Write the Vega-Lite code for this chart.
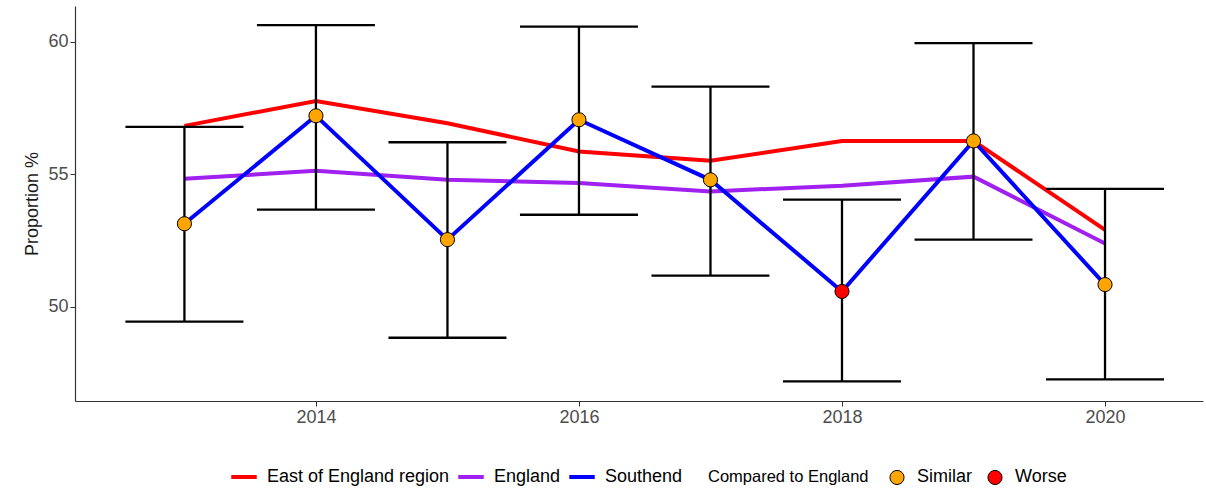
{
  "$schema": "https://vega.github.io/schema/vega-lite/v6.json",
  "autosize": {"type": "none"},
  "width": 1128,
  "height": 395,
  "padding": {"left": 75, "top": 6, "right": 3, "bottom": 87},
  "background": "white",
  "config": {
    "view": {"stroke": null},
    "font": "Liberation Sans",
    "axis": {"grid": false, "domainColor": "#333333", "domainWidth": 1.2, "tickColor": "#333333", "tickSize": 5, "labelColor": "#4D4D4D", "labelFont": "Liberation Sans", "titleFont": "Liberation Sans", "titleFontWeight": "normal", "titleColor": "#1a1a1a", "labelFontSize": 18, "titleFontSize": 18, "labelPadding": 2, "titlePadding": 6},
    "legend": {"orient": "none", "direction": "horizontal", "padding": 0, "labelFontSize": 18, "labelFont": "Liberation Sans", "labelColor": "#000000", "labelLimit": 400, "titleFont": "Liberation Sans", "titleFontWeight": "normal", "titleFontSize": 16.5, "titleColor": "#000000"}
  },
  "data": {
    "values": [
      {"year": 2013, "area": "East of England region", "value": 56.83},
      {"year": 2014, "area": "East of England region", "value": 57.77},
      {"year": 2015, "area": "East of England region", "value": 56.93},
      {"year": 2016, "area": "East of England region", "value": 55.86},
      {"year": 2017, "area": "East of England region", "value": 55.51},
      {"year": 2018, "area": "East of England region", "value": 56.26},
      {"year": 2019, "area": "East of England region", "value": 56.26},
      {"year": 2020, "area": "East of England region", "value": 52.9},
      {"year": 2013, "area": "England", "value": 54.83},
      {"year": 2014, "area": "England", "value": 55.13},
      {"year": 2015, "area": "England", "value": 54.79},
      {"year": 2016, "area": "England", "value": 54.67},
      {"year": 2017, "area": "England", "value": 54.35},
      {"year": 2018, "area": "England", "value": 54.57},
      {"year": 2019, "area": "England", "value": 54.91},
      {"year": 2020, "area": "England", "value": 52.38},
      {"year": 2013, "area": "Southend", "value": 53.13, "lower": 49.43, "upper": 56.79, "compared": "Similar"},
      {"year": 2014, "area": "Southend", "value": 57.21, "lower": 53.66, "upper": 60.64, "compared": "Similar"},
      {"year": 2015, "area": "Southend", "value": 52.53, "lower": 48.82, "upper": 56.21, "compared": "Similar"},
      {"year": 2016, "area": "Southend", "value": 57.06, "lower": 53.47, "upper": 60.58, "compared": "Similar"},
      {"year": 2017, "area": "Southend", "value": 54.79, "lower": 51.17, "upper": 58.31, "compared": "Similar"},
      {"year": 2018, "area": "Southend", "value": 50.57, "lower": 47.17, "upper": 54.04, "compared": "Worse"},
      {"year": 2019, "area": "Southend", "value": 56.26, "lower": 52.53, "upper": 59.96, "compared": "Similar"},
      {"year": 2020, "area": "Southend", "value": 50.83, "lower": 47.25, "upper": 54.45, "compared": "Similar"}
    ]
  },
  "layer": [
    {
      "mark": {"type": "line", "strokeWidth": 4},
      "encoding": {
        "x": {"field": "year", "type": "quantitative", "scale": {"domain": [2012.168, 2020.745], "nice": false, "zero": false},
              "axis": {"values": [2014, 2016, 2018, 2020], "format": "d", "title": null}},
        "y": {"field": "value", "type": "quantitative", "scale": {"domain": [46.43, 61.36], "nice": false, "zero": false},
              "axis": {"values": [50, 55, 60], "title": "Proportion %"}},
        "color": {"field": "area", "type": "nominal",
                  "scale": {"domain": ["East of England region", "England", "Southend"], "range": ["#FF0000", "#A020F0", "#0000FF"]},
                  "legend": {"title": null, "legendX": 154, "legendY": 456, "symbolType": "stroke", "symbolStrokeWidth": 4, "symbolSize": 650, "labelOffset": 8, "columnPadding": 0}}
      }
    },
    {
      "transform": [{"filter": "datum.area === 'Southend'"}],
      "mark": {"type": "rule", "color": "black", "strokeWidth": 2.3},
      "encoding": {
        "x": {"field": "year", "type": "quantitative"},
        "y": {"field": "lower", "type": "quantitative"},
        "y2": {"field": "upper"}
      }
    },
    {
      "transform": [{"filter": "datum.area === 'Southend'"}],
      "mark": {"type": "tick", "orient": "horizontal", "color": "black", "size": 118, "thickness": 2.3, "opacity": 1},
      "encoding": {"x": {"field": "year", "type": "quantitative"}, "y": {"field": "lower", "type": "quantitative"}}
    },
    {
      "transform": [{"filter": "datum.area === 'Southend'"}],
      "mark": {"type": "tick", "orient": "horizontal", "color": "black", "size": 118, "thickness": 2.3, "opacity": 1},
      "encoding": {"x": {"field": "year", "type": "quantitative"}, "y": {"field": "upper", "type": "quantitative"}}
    },
    {
      "transform": [{"filter": "datum.area === 'Southend'"}],
      "mark": {"type": "point", "filled": true, "size": 200, "stroke": "black", "strokeWidth": 1, "opacity": 1},
      "encoding": {
        "x": {"field": "year", "type": "quantitative"},
        "y": {"field": "value", "type": "quantitative"},
        "fill": {"field": "compared", "type": "nominal",
                 "scale": {"domain": ["Similar", "Worse"], "range": ["#FFA500", "#FF0000"]},
                 "legend": {"title": "Compared to England", "legendX": 633, "legendY": 462, "titleOrient": "left", "titleAnchor": "middle", "titlePadding": 19, "symbolType": "circle", "symbolSize": 200, "symbolStrokeColor": "black", "symbolStrokeWidth": 1, "labelOffset": 11, "columnPadding": 12}}
      }
    }
  ]
}
